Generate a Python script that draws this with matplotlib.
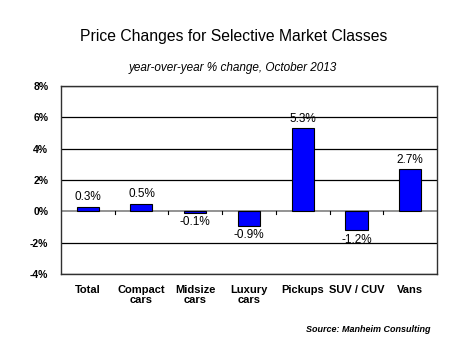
import numpy as np
import matplotlib.pyplot as plt

plt.rcParams['font.family'] = ['Liberation Sans', 'DejaVu Sans']

categories = ["Total", "Compact\ncars", "Midsize\ncars", "Luxury\ncars",
              "Pickups", "SUV / CUV", "Vans"]
changes = [0.3, 0.5, -0.1, -0.9, 5.3, -1.2, 2.7]
yticks = [-4, -2, 0, 2, 4, 6, 8]

fig = plt.figure(figsize=(4.68, 3.51), dpi=100)
ax = fig.add_axes([0.130, 0.219, 0.804, 0.536])

x = np.arange(len(categories))
ax.bar(x, changes, width=0.41, color="#0000ff", edgecolor="black",
       linewidth=0.8, zorder=3)

for xi, v in zip(x, changes):
    if v >= 0:
        ax.text(xi, v + 0.22, "{:.1f}%".format(v), ha="center", va="bottom",
                fontsize=8.5, zorder=4)
    else:
        ax.text(xi, v - 0.22, "{:.1f}%".format(v), ha="center", va="top",
                fontsize=8.5, zorder=4)

ax.set_xlim(-0.5, len(categories) - 0.5)
ax.set_ylim(-4, 8)
ax.set_yticks(yticks)
ax.set_yticklabels(["{}%".format(t) for t in yticks], fontsize=7.5,
                   fontweight="bold")
ax.tick_params(axis="y", length=0, pad=9)
for t in yticks:
    if t != 0:
        ax.axhline(t, color="black", linewidth=0.9, zorder=1)
ax.axhline(0, color="#808080", linewidth=1.2, zorder=2)

# small category separator ticks on the zero line
for b in np.arange(0.5, len(categories) - 1, 1.0):
    ax.plot([b, b], [0, -0.18], color="black", linewidth=0.8, zorder=2)

ax.set_xticks(x)
ax.set_xticklabels(categories, fontsize=8, fontweight="bold",
                   linespacing=1.0)
ax.tick_params(axis="x", length=0, pad=8)

for s in ax.spines.values():
    s.set_color("#303030")
    s.set_linewidth(1.0)

fig.text(0.5, 1 - 37 / 351, "Price Changes for Selective Market Classes",
         ha="center", va="center", fontsize=11.3)
fig.text(0.498, 1 - 68 / 351, "year-over-year % change, October 2013",
         ha="center", va="center", fontsize=8.5, style="italic")
fig.text(431 / 468, 1 - 330 / 351, "Source: Manheim Consulting",
         ha="right", va="center", fontsize=6.5, style="italic",
         fontweight="bold")

fig.savefig("out.png", dpi=100)
